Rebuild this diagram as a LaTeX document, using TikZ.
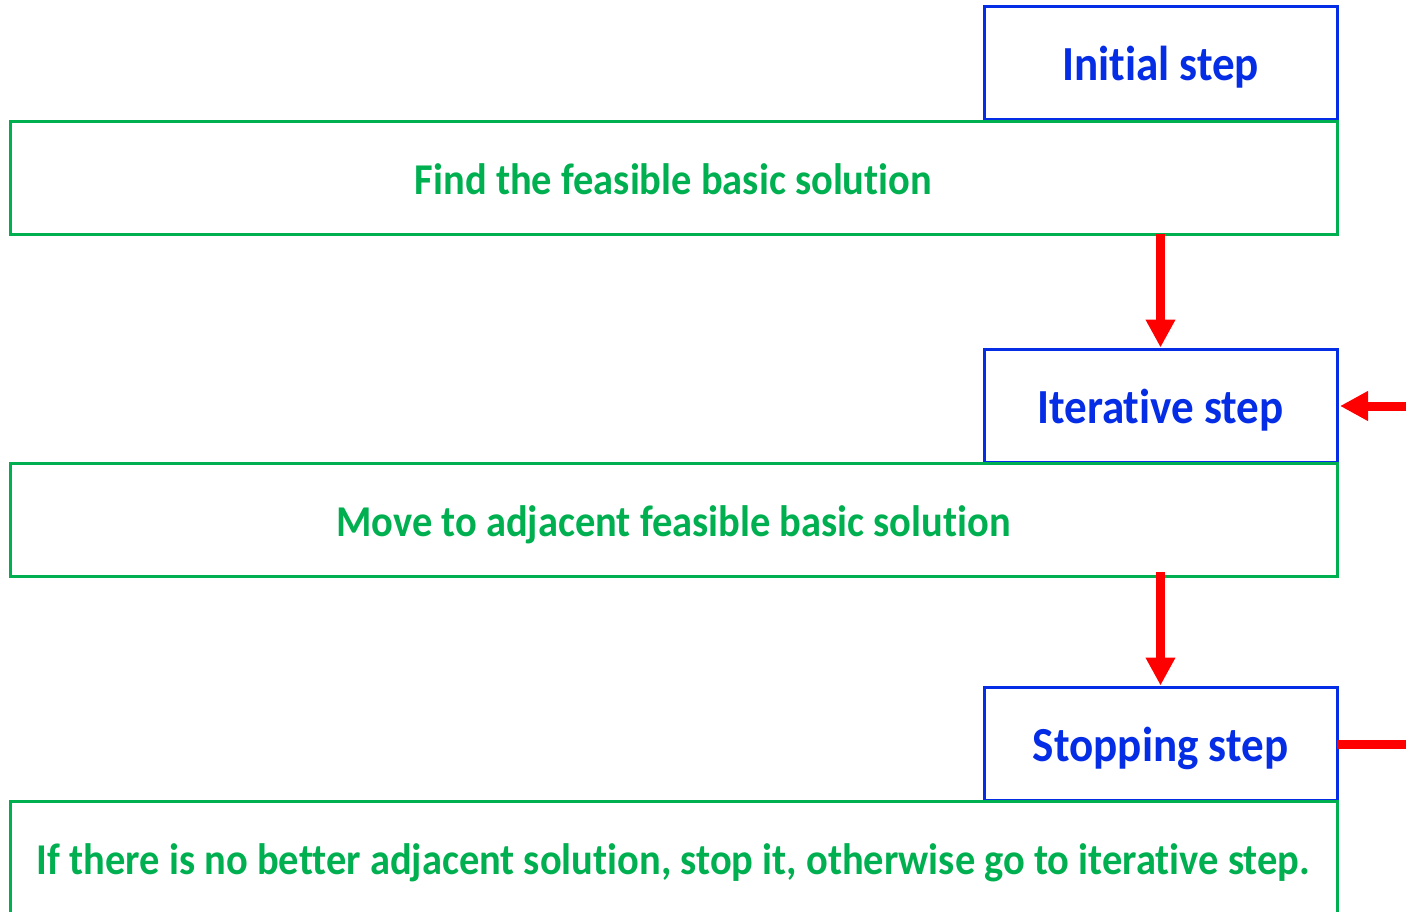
\documentclass[tikz,border=0pt]{standalone}
\usepackage{fontspec}
\setmainfont{Carlito}[FakeStretch=0.92,Ligatures={NoCommon}]
\usetikzlibrary{arrows.meta}
\definecolor{myblue}{RGB}{5,45,230}
\definecolor{mygreen}{RGB}{0,176,80}
\definecolor{myred}{RGB}{255,0,0}
\begin{document}
\begin{tikzpicture}[x=1pt,y=-1pt,
  stepbox/.style={draw=myblue,line width=3pt,fill=white,outer sep=0pt,inner sep=0pt,
    minimum width=353pt,minimum height=113pt,text=myblue,font=\bfseries\fontsize{49}{56}\selectfont,
    text height=45pt,text depth=10pt},
  taskbox/.style={draw=mygreen,line width=3pt,outer sep=0pt,inner sep=0pt,
    minimum width=1327pt,minimum height=113pt,text=mygreen,font=\bfseries\fontsize{44}{50}\selectfont,
    text height=41pt,text depth=8pt},
  flow/.style={draw=myred,line width=9pt,-{Triangle[length=28pt,width=28pt]}},
  plain/.style={draw=myred,line width=9pt}]
\useasboundingbox (0,0) rectangle (1406,912);
\begin{scope}
\clip (0,0) rectangle (1406,912);
\node[stepbox] (b1) at (1160.5,63.5) {Initial step};
\node[stepbox] (b2) at (1160.5,406) {Iterative step};
\node[stepbox] (b3) at (1160.5,744) {Stopping step};
\node[taskbox] (g1) at (673.5,178) {Find the feasible basic solution};
\node[taskbox] (g2) at (673.5,519.5) {Move to adjacent feasible basic solution};
\node[taskbox] (g3) at (673.5,857.5) {If there is no better adjacent solution, stop it, otherwise go to iterative step.};
\coordinate (in) at (1406,406);
\coordinate (out) at (1406,744);
\draw[flow,shorten >=2pt] (g1.south -| b2.north) -- (b2.north);
\draw[flow,shorten >=2pt] ([yshift=4pt]g2.south -| b3.north) -- (b3.north);
\draw[flow,shorten >=3pt] (in) -- (b2.east);
\draw[plain] (b3.east) -- (out);
\end{scope}
\end{tikzpicture}
\end{document}
